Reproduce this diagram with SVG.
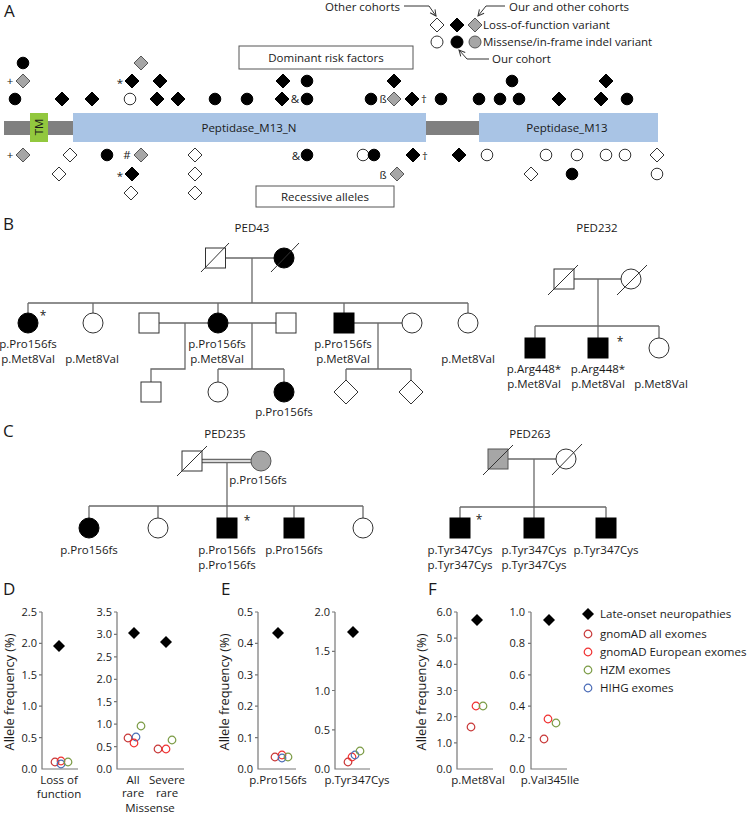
<svg xmlns="http://www.w3.org/2000/svg" width="749" height="815" viewBox="0 0 749 815">
<style>
text{font-family:"Open Sans","Liberation Sans",sans-serif;fill:#1a1a1a;font-size:11.5px}
.h{font-size:17px}
.m{text-anchor:middle}
.e{text-anchor:end}
.tk{font-size:11px;text-anchor:end}
.yl{font-size:12.8px;text-anchor:middle}
.bk{fill:#000;stroke:#000;stroke-width:1}
.wh{fill:#fff;stroke:#333;stroke-width:1}
.gr{fill:#a6a6a6;stroke:#555;stroke-width:1}
.ln{stroke:#6a6a6a;stroke-width:1.3;fill:none}
.ar{stroke:#333;stroke-width:1;fill:none}
.bx{fill:#fff;stroke:#555;stroke-width:1}
.ax{stroke:#777;stroke-width:1.2;fill:none}
.ga{fill:none;stroke:#c83737;stroke-width:1.2}
.ge{fill:none;stroke:#f03030;stroke-width:1.2}
.hz{fill:none;stroke:#7b9b45;stroke-width:1.2}
.hi{fill:none;stroke:#4b6cb7;stroke-width:1.2}
.pd{fill:#000}
</style>
<defs>
<path id="dm" d="M0,-7L7,0L0,7L-7,0Z"/>
<circle id="ci" r="5.8"/>
<path id="pdm" d="M0,-6L6,0L0,6L-6,0Z"/>
<circle id="pc" r="3.8"/>
<path id="bdm" d="M0,-12L12,0L0,12L-12,0Z"/>
<marker id="arr" viewBox="0 0 8 8" refX="7" refY="4" markerWidth="8" markerHeight="8" orient="auto" markerUnits="userSpaceOnUse">
<path d="M1,1L7,4L1,7" fill="none" stroke="#333" stroke-width="1"/>
</marker>
</defs>

<!-- Panel labels -->
<text class="h" x="4" y="17">A</text>
<text class="h" x="3" y="230">B</text>
<text class="h" x="3" y="437">C</text>
<text class="h" x="3" y="595">D</text>
<text class="h" x="221" y="595">E</text>
<text class="h" x="428" y="595">F</text>

<!-- Panel A legend -->
<g id="legend-a">
<text class="e" x="400" y="11">Other cohorts</text>
<path class="ar" d="M404,6H429L436,16" marker-end="url(#arr)"/>
<text x="509" y="11">Our and other cohorts</text>
<path class="ar" d="M505,6H486L478,16" marker-end="url(#arr)"/>
<use href="#dm" class="wh" x="437" y="25"/>
<use href="#dm" class="bk" x="457" y="25"/>
<use href="#dm" class="gr" x="475" y="25"/>
<circle class="wh" cx="437" cy="42" r="6"/>
<circle class="bk" cx="457" cy="42" r="6"/>
<circle class="gr" cx="475" cy="42" r="6"/>
<text x="483" y="29">Loss-of-function variant</text>
<text x="483" y="46">Missense/in-frame indel variant</text>
<text x="492" y="63">Our cohort</text>
<path class="ar" d="M489,59H467L459,50" marker-end="url(#arr)"/>
</g>

<!-- Protein -->
<g id="protein">
<rect x="4" y="121" width="69" height="14" fill="#808080"/>
<rect x="30" y="113" width="18" height="29" fill="#92c83e"/>
<text class="m" transform="translate(43,127) rotate(-90)">TM</text>
<rect x="73" y="113" width="353" height="29" fill="#a9c4e5"/>
<rect x="426" y="121" width="53" height="14" fill="#808080"/>
<rect x="479" y="113" width="179" height="29" fill="#a9c4e5"/>
<text class="m" x="249" y="132">Peptidase_M13_N</text>
<text class="m" x="567" y="132">Peptidase_M13</text>
</g>
<g id="box-dominant">
<rect class="bx" x="239" y="46" width="174" height="23"/>
<text class="m" x="326" y="61.5">Dominant risk factors</text>
</g>
<g id="box-recessive">
<rect class="bx" x="256" y="186" width="138" height="21"/>
<text class="m" x="325" y="200.5">Recessive alleles</text>
</g>

<!-- Variants above -->
<g id="variants-dominant">
<use href="#ci" class="bk" x="23" y="63"/>
<use href="#dm" class="gr" x="141" y="63"/>
<use href="#dm" class="gr" x="23" y="81"/>
<use href="#dm" class="bk" x="132" y="81"/>
<use href="#dm" class="bk" x="160" y="81"/>
<use href="#dm" class="bk" x="283" y="81"/>
<use href="#ci" class="bk" x="307" y="81"/>
<use href="#dm" class="bk" x="394" y="81"/>
<use href="#ci" class="bk" x="512" y="81"/>
<use href="#dm" class="bk" x="606" y="81"/>
<use href="#ci" class="bk" x="15" y="99"/>
<use href="#dm" class="bk" x="62" y="99"/>
<use href="#dm" class="bk" x="92" y="99"/>
<use href="#ci" class="wh" x="130" y="99"/>
<use href="#dm" class="bk" x="157" y="99"/>
<use href="#dm" class="bk" x="178" y="99"/>
<use href="#ci" class="bk" x="215" y="99"/>
<use href="#ci" class="bk" x="247" y="99"/>
<use href="#dm" class="bk" x="282" y="99"/>
<use href="#ci" class="bk" x="307" y="99"/>
<use href="#ci" class="bk" x="371" y="99"/>
<use href="#dm" class="gr" x="394" y="99"/>
<use href="#dm" class="bk" x="412" y="99"/>
<use href="#ci" class="bk" x="441" y="99"/>
<use href="#ci" class="bk" x="479" y="99"/>
<use href="#ci" class="bk" x="500" y="99"/>
<use href="#ci" class="bk" x="519" y="99"/>
<use href="#dm" class="bk" x="559" y="99"/>
<use href="#dm" class="bk" x="601" y="99"/>
<use href="#ci" class="bk" x="627" y="99"/>
<text class="m" x="10" y="85">+</text>
<text class="m" x="120" y="87">*</text>
<text class="m" x="295" y="103">&amp;</text>
<text class="m" x="383" y="103">ß</text>
<text class="m" x="424" y="103">†</text>
</g>

<!-- Variants below -->
<g id="variants-recessive">
<use href="#dm" class="gr" x="23" y="155"/>
<use href="#dm" class="wh" x="70" y="155"/>
<use href="#ci" class="bk" x="107" y="155"/>
<use href="#dm" class="gr" x="141" y="155"/>
<use href="#dm" class="wh" x="195" y="155"/>
<use href="#ci" class="bk" x="307" y="155"/>
<use href="#ci" class="wh" x="363" y="155"/>
<use href="#ci" class="bk" x="374" y="155"/>
<use href="#dm" class="bk" x="413" y="155"/>
<use href="#dm" class="bk" x="459" y="155"/>
<use href="#ci" class="wh" x="487" y="155"/>
<use href="#ci" class="wh" x="546" y="155"/>
<use href="#ci" class="wh" x="577" y="155"/>
<use href="#ci" class="wh" x="606" y="155"/>
<use href="#ci" class="wh" x="625" y="155"/>
<use href="#dm" class="wh" x="657" y="155"/>
<use href="#dm" class="wh" x="59" y="174"/>
<use href="#dm" class="bk" x="132" y="174"/>
<use href="#dm" class="wh" x="195" y="174"/>
<use href="#dm" class="gr" x="397" y="174"/>
<use href="#dm" class="wh" x="531" y="174"/>
<use href="#ci" class="bk" x="572" y="174"/>
<use href="#ci" class="wh" x="657" y="174"/>
<use href="#dm" class="wh" x="131" y="193"/>
<use href="#dm" class="wh" x="195" y="193"/>
<text class="m" x="10" y="159">+</text>
<text class="m" x="127" y="159">#</text>
<text class="m" x="120" y="180">*</text>
<text class="m" x="296" y="160">&amp;</text>
<text class="m" x="425" y="160">†</text>
<text class="m" x="383" y="179">ß</text>
</g>

<!-- Pedigree connectors -->
<g id="connectors">
<path class="ln" d="M225.5,258H274M252,258V303M28,303H468M28,303V313M93,303V313M218,303V313M344,303V313M468,303V313"/>
<path class="ln" d="M159,323H208M228,323H276M354,323H402"/>
<path class="ln" d="M185,323V369H151V382M252,323V369M218,369H284M218,369V382M284,369V382M378,323V369M346,369H411M346,369V380M411,369V380"/>
<path class="ln" d="M574,279H621M598,279V326M535,326H659M535,326V338M598,326V338M659,326V338"/>
<path class="ln" d="M202,459.5H251M202,462.5H251M227,462.5V506M89,506H363M89,506V518M158,506V518M227,506V518M294,506V518M363,506V518"/>
<path class="ln" d="M508,459H556M534,459V507M460,507H606M460,507V518M534,507V518M606,507V518"/>
</g>

<!-- PED43 -->
<text class="m" x="252" y="232">PED43</text>
<g id="ped43-gf"><rect class="wh" x="205.5" y="248" width="20" height="20"/><line class="ar" x1="201" y1="272" x2="229" y2="243"/></g>
<g id="ped43-gm"><circle class="bk" cx="284" cy="258" r="10"/><line class="ar" x1="271" y1="272" x2="299" y2="243"/></g>
<g id="ped43-c1"><circle class="bk" cx="28" cy="323" r="10"/><text x="43" y="320" style="font-size:12px" class="m">*</text><text class="m" x="28" y="348">p.Pro156fs</text><text class="m" x="28" y="363">p.Met8Val</text></g>
<g id="ped43-c2"><circle class="wh" cx="93" cy="323" r="10"/><text class="m" x="92" y="363">p.Met8Val</text></g>
<g id="ped43-sp1"><rect class="wh" x="139" y="313" width="20" height="20"/></g>
<g id="ped43-c4"><circle class="bk" cx="218" cy="323" r="10"/><text class="m" x="217" y="348">p.Pro156fs</text><text class="m" x="217" y="363">p.Met8Val</text></g>
<g id="ped43-sp2"><rect class="wh" x="276" y="313" width="20" height="20"/></g>
<g id="ped43-c6"><rect class="bk" x="334" y="313" width="20" height="20"/><text class="m" x="343" y="348">p.Pro156fs</text><text class="m" x="343" y="363">p.Met8Val</text></g>
<g id="ped43-sp3"><circle class="wh" cx="412" cy="323" r="10"/></g>
<g id="ped43-c8"><circle class="wh" cx="468" cy="323" r="10"/><text class="m" x="468" y="363">p.Met8Val</text></g>
<g id="ped43-g1"><rect class="wh" x="141" y="382" width="20" height="20"/></g>
<g id="ped43-g2"><circle class="wh" cx="218" cy="392" r="10"/></g>
<g id="ped43-g3"><circle class="bk" cx="284" cy="392" r="10"/><text class="m" x="284" y="416">p.Pro156fs</text></g>
<g id="ped43-g4"><use href="#bdm" class="wh" x="346" y="392"/></g>
<g id="ped43-g5"><use href="#bdm" class="wh" x="411" y="392"/></g>

<!-- PED232 -->
<text class="m" x="597" y="232">PED232</text>
<g id="ped232-f"><rect class="wh" x="554" y="269" width="20" height="20"/><line class="ar" x1="548" y1="295" x2="578" y2="265"/></g>
<g id="ped232-m"><circle class="wh" cx="631" cy="279" r="10"/><line class="ar" x1="617" y1="295" x2="647" y2="265"/></g>
<g id="ped232-c1"><rect class="bk" x="525" y="338" width="20" height="20"/><text class="m" x="534" y="373">p.Arg448*</text><text class="m" x="534" y="388">p.Met8Val</text></g>
<g id="ped232-c2"><rect class="bk" x="588" y="338" width="20" height="20"/><text class="m" x="620" y="346" style="font-size:12px">*</text><text class="m" x="598" y="373">p.Arg448*</text><text class="m" x="598" y="388">p.Met8Val</text></g>
<g id="ped232-c3"><circle class="wh" cx="659" cy="348" r="10"/><text class="m" x="661" y="388">p.Met8Val</text></g>

<!-- PED235 -->
<text class="m" x="225" y="438">PED235</text>
<g id="ped235-f"><rect class="wh" x="182" y="451" width="20" height="20"/><line class="ar" x1="177" y1="476" x2="207" y2="446"/></g>
<g id="ped235-m"><circle class="gr" cx="261" cy="461" r="10"/><text class="m" x="258" y="484">p.Pro156fs</text></g>
<g id="ped235-c1"><circle class="bk" cx="89" cy="528" r="10"/><text class="m" x="89" y="554">p.Pro156fs</text></g>
<g id="ped235-c2"><circle class="wh" cx="158" cy="528" r="10"/></g>
<g id="ped235-c3"><rect class="bk" x="217" y="518" width="20" height="20"/><text class="m" x="247" y="525" style="font-size:12px">*</text><text class="m" x="227" y="554">p.Pro156fs</text><text class="m" x="227" y="569">p.Pro156fs</text></g>
<g id="ped235-c4"><rect class="bk" x="284" y="518" width="20" height="20"/><text class="m" x="294" y="554">p.Pro156fs</text></g>
<g id="ped235-c5"><circle class="wh" cx="363" cy="528" r="10"/></g>

<!-- PED263 -->
<text class="m" x="530" y="438">PED263</text>
<g id="ped263-f"><rect class="gr" x="488" y="449" width="20" height="20"/><line class="ar" x1="483" y1="475" x2="513" y2="445"/></g>
<g id="ped263-m"><circle class="wh" cx="566" cy="459" r="10"/><line class="ar" x1="552" y1="475" x2="582" y2="444"/></g>
<g id="ped263-c1"><rect class="bk" x="450" y="518" width="20" height="20"/><text class="m" x="479" y="524" style="font-size:12px">*</text><text class="m" x="460" y="554">p.Tyr347Cys</text><text class="m" x="460" y="569">p.Tyr347Cys</text></g>
<g id="ped263-c2"><rect class="bk" x="524" y="518" width="20" height="20"/><text class="m" x="534" y="554">p.Tyr347Cys</text><text class="m" x="534" y="569">p.Tyr347Cys</text></g>
<g id="ped263-c3"><rect class="bk" x="596" y="518" width="20" height="20"/><text class="m" x="606" y="554">p.Tyr347Cys</text></g>

<!-- Panel D -->
<g id="plot-d1">
<text class="yl" transform="translate(13.5,692) rotate(-90)">Allele frequency (%)</text>
<path class="ax" d="M42,612V769H78M39,612H42M39,643.4H42M39,674.8H42M39,706.2H42M39,737.6H42"/>
<text class="tk" x="37" y="616">2.5</text><text class="tk" x="37" y="647.4">2.0</text><text class="tk" x="37" y="678.8">1.5</text><text class="tk" x="37" y="710.2">1.0</text><text class="tk" x="37" y="741.6">0.5</text><text class="tk" x="37" y="773">0.0</text>
<use href="#pdm" class="pd" x="59" y="646"/>
<use href="#pc" class="ga" x="55" y="762"/><use href="#pc" class="ge" x="61" y="761"/><use href="#pc" class="hi" x="61" y="764"/><use href="#pc" class="hz" x="68" y="762"/>
<text class="m" x="59" y="784">Loss of</text><text class="m" x="59" y="798">function</text>
</g>
<g id="plot-d2">
<path class="ax" d="M117,612V769H184M114,612H117M114,634.4H117M114,656.9H117M114,679.3H117M114,701.7H117M114,724.1H117M114,746.6H117"/>
<text class="tk" x="112" y="616">3.5</text><text class="tk" x="112" y="638.4">3.0</text><text class="tk" x="112" y="660.9">2.5</text><text class="tk" x="112" y="683.3">2.0</text><text class="tk" x="112" y="705.7">1.5</text><text class="tk" x="112" y="728.1">1.0</text><text class="tk" x="112" y="750.6">0.5</text><text class="tk" x="112" y="773">0.0</text>
<use href="#pdm" class="pd" x="134" y="633"/><use href="#pdm" class="pd" x="166" y="642"/>
<use href="#pc" class="ga" x="128" y="738"/><use href="#pc" class="hi" x="136" y="737"/><use href="#pc" class="ge" x="134" y="743"/><use href="#pc" class="hz" x="141" y="726"/>
<use href="#pc" class="ga" x="158" y="749"/><use href="#pc" class="ge" x="166" y="749"/><use href="#pc" class="hz" x="172" y="740"/>
<text class="m" x="133" y="784">All</text><text class="m" x="133" y="797">rare</text>
<text class="m" x="167" y="784">Severe</text><text class="m" x="167" y="797">rare</text>
<text class="m" x="150" y="812">Missense</text>
</g>

<!-- Panel E -->
<g id="plot-e1">
<text class="yl" transform="translate(229,692) rotate(-90)">Allele frequency (%)</text>
<path class="ax" d="M258,612V769H296M255,612H258M255,643.4H258M255,674.8H258M255,706.2H258M255,737.6H258"/>
<text class="tk" x="253" y="616">0.5</text><text class="tk" x="253" y="647.4">0.4</text><text class="tk" x="253" y="678.8">0.3</text><text class="tk" x="253" y="710.2">0.2</text><text class="tk" x="253" y="741.6">0.1</text><text class="tk" x="253" y="773">0.0</text>
<use href="#pdm" class="pd" x="278" y="633"/>
<use href="#pc" class="ga" x="275" y="757"/><use href="#pc" class="ge" x="282" y="755"/><use href="#pc" class="hi" x="282" y="758"/><use href="#pc" class="hz" x="288" y="757"/>
<text class="m" x="278" y="784">p.Pro156fs</text>
</g>
<g id="plot-e2">
<path class="ax" d="M335,612V769H370M332,612H335M332,651.3H335M332,690.5H335M332,729.8H335"/>
<text class="tk" x="330" y="616">2.0</text><text class="tk" x="330" y="655.3">1.5</text><text class="tk" x="330" y="694.5">1.0</text><text class="tk" x="330" y="733.8">0.5</text><text class="tk" x="330" y="773">0.0</text>
<use href="#pdm" class="pd" x="353" y="632"/>
<use href="#pc" class="ga" x="348" y="762"/><use href="#pc" class="ge" x="352" y="757"/><use href="#pc" class="hi" x="355" y="755"/><use href="#pc" class="hz" x="360" y="751"/>
<text class="m" x="357" y="784">p.Tyr347Cys</text>
</g>

<!-- Panel F -->
<g id="plot-f1">
<text class="yl" transform="translate(426,692) rotate(-90)">Allele frequency (%)</text>
<path class="ax" d="M457,612V769H493M454,612H457M454,638.2H457M454,664.3H457M454,690.5H457M454,716.7H457M454,742.8H457"/>
<text class="tk" x="452" y="616">6.0</text><text class="tk" x="452" y="642.2">5.0</text><text class="tk" x="452" y="668.3">4.0</text><text class="tk" x="452" y="694.5">3.0</text><text class="tk" x="452" y="720.7">2.0</text><text class="tk" x="452" y="746.8">1.0</text><text class="tk" x="452" y="773">0.0</text>
<use href="#pdm" class="pd" x="477" y="620"/>
<use href="#pc" class="ga" x="471" y="727"/><use href="#pc" class="ge" x="476" y="706"/><use href="#pc" class="hz" x="483" y="706"/>
<text class="m" x="478" y="784">p.Met8Val</text>
</g>
<g id="plot-f2">
<path class="ax" d="M531,612V769H567M528,612H531M528,643.4H531M528,674.8H531M528,706.2H531M528,737.6H531"/>
<text class="tk" x="525" y="616">1.0</text><text class="tk" x="525" y="647.4">0.8</text><text class="tk" x="525" y="678.8">0.6</text><text class="tk" x="525" y="710.2">0.4</text><text class="tk" x="525" y="741.6">0.2</text><text class="tk" x="525" y="773">0.0</text>
<use href="#pdm" class="pd" x="549" y="620"/>
<use href="#pc" class="ga" x="544" y="739"/><use href="#pc" class="ge" x="548" y="719"/><use href="#pc" class="hz" x="556" y="723"/>
<text class="m" x="550" y="784">p.Val345Ile</text>
</g>

<!-- Plot legend -->
<g id="legend-plots">
<use href="#pdm" class="pd" x="588" y="614"/><text x="600" y="618">Late-onset neuropathies</text>
<use href="#pc" class="ga" x="588" y="634"/><text x="600" y="638">gnomAD all exomes</text>
<use href="#pc" class="ge" x="588" y="652"/><text x="600" y="656">gnomAD European exomes</text>
<use href="#pc" class="hz" x="588" y="670"/><text x="600" y="674">HZM exomes</text>
<use href="#pc" class="hi" x="588" y="688"/><text x="600" y="692">HIHG exomes</text>
</g>
</svg>
